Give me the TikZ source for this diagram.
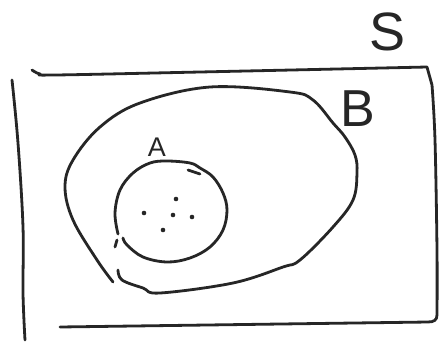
\documentclass[tikz,border=0pt]{standalone}
\usepackage{fontspec}
\setmainfont{Liberation Sans}
\begin{document}
\begin{tikzpicture}[x=1pt,y=-1pt,
  ink/.style={draw=black!85,line width=2.8pt,line cap=round,line join=round},
  lbl/.style={inner sep=0pt,text=black!85}]
\useasboundingbox[fill=white] (0,0) rectangle (440,349);
% rectangle S
\draw[ink] plot[smooth,tension=0.6] coordinates {(32,70) (40,74) (55,75) (200,72) (427,67)} -- (432,85) plot[smooth,tension=0.6] coordinates {(432,85) (435,140) (437,250) (437,315)} .. controls (437,320) and (434,322) .. (428,322) -- (60,327);
\draw[ink] plot[smooth,tension=0.6] coordinates {(12,80) (18,143) (23,227) (23,293) (25,340)};
% blob B
\draw[ink] plot[smooth,tension=0.6] coordinates {(113,282) (97,260) (73,220) (65,187) (73,160) (100,127) (140,103) (210,87) (290,92) (313,100) (333,123) (345,137) (355,155) (357,173) (353,200) (333,227) (300,260) (283,267) (233,283) (160,293) (143,288) (122,280) (118,270)};
% circle A
\draw[ink] plot[smooth,tension=0.6] coordinates {(118,234) (115,213) (120,190) (133,173) (150,163) (167,161) (190,163) (200,168) (213,177) (223,193) (227,210) (223,230) (210,247) (190,258) (167,262) (143,257) (127,245) (123,238)};
\draw[ink] (188,170) -- (200,174);
\draw[ink] (117,240) -- (115,247);
% dots
\foreach \p in {(176,199),(144,213),(173,215),(192,217),(163,230)}
  \fill[black!85] \p circle (2.3);
\node[lbl,font=\fontsize{27}{27}\selectfont] (A) at (157,147) {A};
\node[lbl,font=\fontsize{52}{52}\selectfont] (B) at (358,109) {B};
\node[lbl,font=\fontsize{54}{54}\selectfont] (S) at (388,32) {S};
\end{tikzpicture}
\end{document}
